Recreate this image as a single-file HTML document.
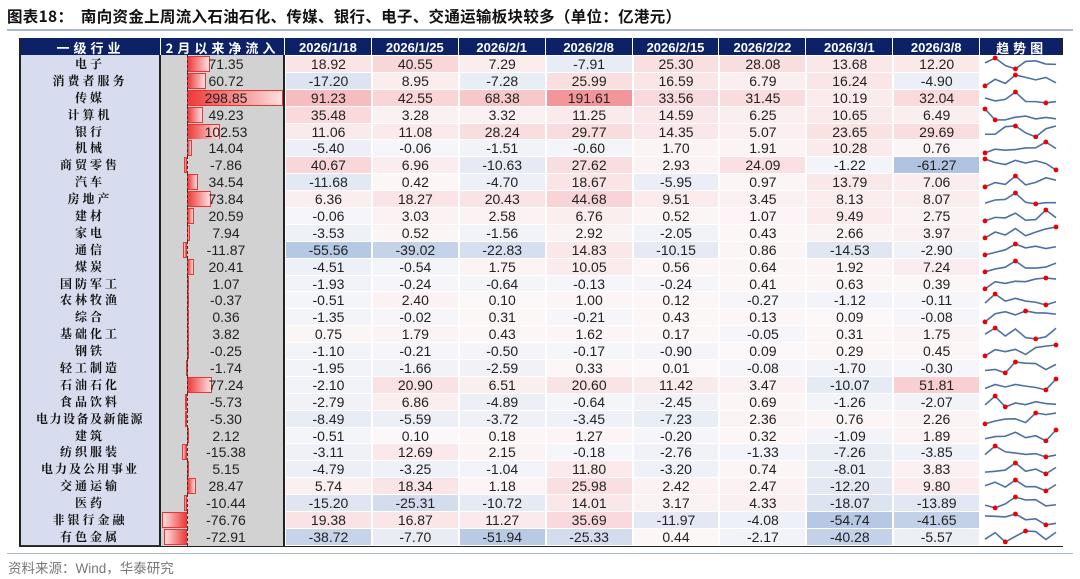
<!DOCTYPE html>
<html><head><meta charset="utf-8">
<style>
body{margin:0;width:1080px;height:579px;background:#fff;font-family:"Liberation Sans","Noto Sans CJK SC",sans-serif;position:relative;overflow:hidden}
.title{position:absolute;left:7px;top:5px;font-size:15.5px;font-weight:bold;color:#111;letter-spacing:0.3px;font-family:"Noto Sans CJK SC","Liberation Sans",sans-serif;white-space:nowrap}
.tl{position:absolute;left:7px;right:7px;top:29px;height:2px;background:#a9b9cf}
.fl{position:absolute;left:7px;right:7px;top:553px;height:1px;background:#a9b9cf}
.foot{position:absolute;left:8px;top:557px;font-size:13.5px;color:#777;font-family:"Liberation Sans","Noto Sans CJK SC",sans-serif}
#tbl{position:absolute;left:19px;top:38px;width:1044px;border:2px solid #222;box-sizing:border-box;border-top:none}
.row{display:grid;grid-template-columns:140px 124px repeat(8,86.9px) 83px;height:16.9px}
.hd{height:17px;background:#0d2266;color:#fff;font-weight:bold;font-size:13px}
.hd div{display:flex;align-items:center;justify-content:center;border-right:1px solid #fff;box-sizing:border-box}
.hd div:last-child{border-right:none}
.lab{background:#d7ddee;border-right:2px solid #222;border-bottom:1px solid #333;box-sizing:border-box;font-size:12px;font-weight:bold;letter-spacing:3px;display:flex;align-items:center;justify-content:center;font-family:"Noto Serif CJK SC","Noto Sans CJK SC",serif;color:#111}
.bar{background:#d2d2d2;border-right:2px solid #222;box-sizing:border-box;position:relative;font-size:14px;color:#222;display:flex;align-items:center;justify-content:center}
.bar i{position:absolute;top:1px;bottom:1px;border:1px solid #e33;box-sizing:border-box}
.bar b{font-weight:normal;position:relative;margin-left:8px}
.zl{position:absolute;left:26px;top:0;bottom:0;border-left:1px dashed #333}
.v{font-size:14px;color:#222;display:flex;align-items:center;justify-content:center;border:1px solid #fff;box-sizing:border-box}
.sp{background:#fff}
.hd .hl{letter-spacing:4px;font-family:"Noto Sans CJK SC",sans-serif}
</style></head><body>
<div class="title">图表18：&nbsp; 南向资金上周流入石油石化、传媒、银行、电子、交通运输板块较多（单位：亿港元）</div>
<div class="tl"></div>
<div id="tbl">
<div class="row hd"><div class="hl">一级行业</div><div class="hl">2月以来净流入</div><div>2026/1/18</div><div>2026/1/25</div><div>2026/2/1</div><div>2026/2/8</div><div>2026/2/15</div><div>2026/2/22</div><div>2026/3/1</div><div>2026/3/8</div><div class="hl">趋势图</div></div>
<div id="body">
<div class="row"><div class="lab">电子</div><div class="bar">71.35</div><div class="v">18.92</div><div class="v">40.55</div><div class="v">7.29</div><div class="v">-7.91</div><div class="v">25.30</div><div class="v">28.08</div><div class="v">13.68</div><div class="v">12.20</div><div class="sp"></div></div>
<div class="row"><div class="lab">消费者服务</div><div class="bar">60.72</div><div class="v">-17.20</div><div class="v">8.95</div><div class="v">-7.28</div><div class="v">25.99</div><div class="v">16.59</div><div class="v">6.79</div><div class="v">16.24</div><div class="v">-4.90</div><div class="sp"></div></div>
<div class="row"><div class="lab">传媒</div><div class="bar">298.85</div><div class="v">91.23</div><div class="v">42.55</div><div class="v">68.38</div><div class="v">191.61</div><div class="v">33.56</div><div class="v">31.45</div><div class="v">10.19</div><div class="v">32.04</div><div class="sp"></div></div>
<div class="row"><div class="lab">计算机</div><div class="bar">49.23</div><div class="v">35.48</div><div class="v">3.28</div><div class="v">3.32</div><div class="v">11.25</div><div class="v">14.59</div><div class="v">6.25</div><div class="v">10.65</div><div class="v">6.49</div><div class="sp"></div></div>
<div class="row"><div class="lab">银行</div><div class="bar">102.53</div><div class="v">11.06</div><div class="v">11.08</div><div class="v">28.24</div><div class="v">29.77</div><div class="v">14.35</div><div class="v">5.07</div><div class="v">23.65</div><div class="v">29.69</div><div class="sp"></div></div>
<div class="row"><div class="lab">机械</div><div class="bar">14.04</div><div class="v">-5.40</div><div class="v">-0.06</div><div class="v">-1.51</div><div class="v">-0.60</div><div class="v">1.70</div><div class="v">1.91</div><div class="v">10.28</div><div class="v">0.76</div><div class="sp"></div></div>
<div class="row"><div class="lab">商贸零售</div><div class="bar">-7.86</div><div class="v">40.67</div><div class="v">6.96</div><div class="v">-10.63</div><div class="v">27.62</div><div class="v">2.93</div><div class="v">24.09</div><div class="v">-1.22</div><div class="v">-61.27</div><div class="sp"></div></div>
<div class="row"><div class="lab">汽车</div><div class="bar">34.54</div><div class="v">-11.68</div><div class="v">0.42</div><div class="v">-4.70</div><div class="v">18.67</div><div class="v">-5.95</div><div class="v">0.97</div><div class="v">13.79</div><div class="v">7.06</div><div class="sp"></div></div>
<div class="row"><div class="lab">房地产</div><div class="bar">73.84</div><div class="v">6.36</div><div class="v">18.27</div><div class="v">20.43</div><div class="v">44.68</div><div class="v">9.51</div><div class="v">3.45</div><div class="v">8.13</div><div class="v">8.07</div><div class="sp"></div></div>
<div class="row"><div class="lab">建材</div><div class="bar">20.59</div><div class="v">-0.06</div><div class="v">3.03</div><div class="v">2.58</div><div class="v">6.76</div><div class="v">0.52</div><div class="v">1.07</div><div class="v">9.49</div><div class="v">2.75</div><div class="sp"></div></div>
<div class="row"><div class="lab">家电</div><div class="bar">7.94</div><div class="v">-3.53</div><div class="v">0.52</div><div class="v">-1.56</div><div class="v">2.92</div><div class="v">-2.05</div><div class="v">0.43</div><div class="v">2.66</div><div class="v">3.97</div><div class="sp"></div></div>
<div class="row"><div class="lab">通信</div><div class="bar">-11.87</div><div class="v">-55.56</div><div class="v">-39.02</div><div class="v">-22.83</div><div class="v">14.83</div><div class="v">-10.15</div><div class="v">0.86</div><div class="v">-14.53</div><div class="v">-2.90</div><div class="sp"></div></div>
<div class="row"><div class="lab">煤炭</div><div class="bar">20.41</div><div class="v">-4.51</div><div class="v">-0.54</div><div class="v">1.75</div><div class="v">10.05</div><div class="v">0.56</div><div class="v">0.64</div><div class="v">1.92</div><div class="v">7.24</div><div class="sp"></div></div>
<div class="row"><div class="lab">国防军工</div><div class="bar">1.07</div><div class="v">-1.93</div><div class="v">-0.24</div><div class="v">-0.64</div><div class="v">-0.13</div><div class="v">-0.24</div><div class="v">0.41</div><div class="v">0.63</div><div class="v">0.39</div><div class="sp"></div></div>
<div class="row"><div class="lab">农林牧渔</div><div class="bar">-0.37</div><div class="v">-0.51</div><div class="v">2.40</div><div class="v">0.10</div><div class="v">1.00</div><div class="v">0.12</div><div class="v">-0.27</div><div class="v">-1.12</div><div class="v">-0.11</div><div class="sp"></div></div>
<div class="row"><div class="lab">综合</div><div class="bar">0.36</div><div class="v">-1.35</div><div class="v">-0.02</div><div class="v">0.31</div><div class="v">-0.21</div><div class="v">0.43</div><div class="v">0.13</div><div class="v">0.09</div><div class="v">-0.08</div><div class="sp"></div></div>
<div class="row"><div class="lab">基础化工</div><div class="bar">3.82</div><div class="v">0.75</div><div class="v">1.79</div><div class="v">0.43</div><div class="v">1.62</div><div class="v">0.17</div><div class="v">-0.05</div><div class="v">0.31</div><div class="v">1.75</div><div class="sp"></div></div>
<div class="row"><div class="lab">钢铁</div><div class="bar">-0.25</div><div class="v">-1.10</div><div class="v">-0.21</div><div class="v">-0.50</div><div class="v">-0.17</div><div class="v">-0.90</div><div class="v">0.09</div><div class="v">0.29</div><div class="v">0.45</div><div class="sp"></div></div>
<div class="row"><div class="lab">轻工制造</div><div class="bar">-1.74</div><div class="v">-1.95</div><div class="v">-1.66</div><div class="v">-2.59</div><div class="v">0.33</div><div class="v">0.01</div><div class="v">-0.08</div><div class="v">-1.70</div><div class="v">-0.30</div><div class="sp"></div></div>
<div class="row"><div class="lab">石油石化</div><div class="bar">77.24</div><div class="v">-2.10</div><div class="v">20.90</div><div class="v">6.51</div><div class="v">20.60</div><div class="v">11.42</div><div class="v">3.47</div><div class="v">-10.07</div><div class="v">51.81</div><div class="sp"></div></div>
<div class="row"><div class="lab">食品饮料</div><div class="bar">-5.73</div><div class="v">-2.79</div><div class="v">6.86</div><div class="v">-4.89</div><div class="v">-0.64</div><div class="v">-2.45</div><div class="v">0.69</div><div class="v">-1.26</div><div class="v">-2.07</div><div class="sp"></div></div>
<div class="row"><div class="lab" style="letter-spacing:1.5px">电力设备及新能源</div><div class="bar">-5.30</div><div class="v">-8.49</div><div class="v">-5.59</div><div class="v">-3.72</div><div class="v">-3.45</div><div class="v">-7.23</div><div class="v">2.36</div><div class="v">0.76</div><div class="v">2.26</div><div class="sp"></div></div>
<div class="row"><div class="lab">建筑</div><div class="bar">2.12</div><div class="v">-0.51</div><div class="v">0.10</div><div class="v">0.18</div><div class="v">1.27</div><div class="v">-0.20</div><div class="v">0.32</div><div class="v">-1.09</div><div class="v">1.89</div><div class="sp"></div></div>
<div class="row"><div class="lab">纺织服装</div><div class="bar">-15.38</div><div class="v">-3.11</div><div class="v">12.69</div><div class="v">2.15</div><div class="v">-0.18</div><div class="v">-2.76</div><div class="v">-1.33</div><div class="v">-7.26</div><div class="v">-3.85</div><div class="sp"></div></div>
<div class="row"><div class="lab" style="letter-spacing:2px">电力及公用事业</div><div class="bar">5.15</div><div class="v">-4.79</div><div class="v">-3.25</div><div class="v">-1.04</div><div class="v">11.80</div><div class="v">-3.20</div><div class="v">0.74</div><div class="v">-8.01</div><div class="v">3.83</div><div class="sp"></div></div>
<div class="row"><div class="lab">交通运输</div><div class="bar">28.47</div><div class="v">5.74</div><div class="v">18.34</div><div class="v">1.18</div><div class="v">25.98</div><div class="v">2.42</div><div class="v">2.47</div><div class="v">-12.20</div><div class="v">9.80</div><div class="sp"></div></div>
<div class="row"><div class="lab">医药</div><div class="bar">-10.44</div><div class="v">-15.20</div><div class="v">-25.31</div><div class="v">-10.72</div><div class="v">14.01</div><div class="v">3.17</div><div class="v">4.33</div><div class="v">-18.07</div><div class="v">-13.89</div><div class="sp"></div></div>
<div class="row"><div class="lab">非银行金融</div><div class="bar">-76.76</div><div class="v">19.38</div><div class="v">16.87</div><div class="v">11.27</div><div class="v">35.69</div><div class="v">-11.97</div><div class="v">-4.08</div><div class="v">-54.74</div><div class="v">-41.65</div><div class="sp"></div></div>
<div class="row"><div class="lab">有色金属</div><div class="bar">-72.91</div><div class="v">-38.72</div><div class="v">-7.70</div><div class="v">-51.94</div><div class="v">-25.33</div><div class="v">0.44</div><div class="v">-2.17</div><div class="v">-40.28</div><div class="v">-5.57</div><div class="sp"></div></div>
</div></div>
<div class="fl"></div>
<div class="foot">资料来源：Wind，华泰研究</div>
<script>
function mix(a,b,t){return 'rgb('+a.map((x,i)=>Math.round(x+(b[i]-x)*t)).join(',')+')';}
document.querySelectorAll('#body .row').forEach(r=>{
  const vs=[...r.querySelectorAll('.v')];const vals=vs.map(e=>parseFloat(e.textContent));
  vs.forEach((e,i)=>{const v=vals[i];let c;
    if(v>=0)c=mix([252,247,248],[242,150,154],Math.pow(Math.min(1,v/191.61),0.7));
    else c=mix([246,246,250],[176,196,226],Math.pow(Math.min(1,-v/61.27),0.8));
    e.style.background=c;});
  const b=r.querySelector('.bar');const bv=parseFloat(b.textContent);
  const w=Math.abs(bv)*0.321;const z=26;
  const t=b.textContent;b.textContent='';
  const i=document.createElement('i');
  if(bv>=0){i.style.left=z+'px';i.style.width=w+'px';i.style.background='linear-gradient(90deg,#ee3a3a,#fde0e0)';}
  else{i.style.left=(z-w)+'px';i.style.width=w+'px';i.style.background='linear-gradient(90deg,#fde0e0,#ee3a3a)';}
  b.appendChild(i);const zl=document.createElement('span');zl.className='zl';b.appendChild(zl);
  const bb=document.createElement('b');bb.textContent=t;b.appendChild(bb);
  const mx=Math.max(...vals),mn=Math.min(...vals);const W=83,H=16.9;
  const xs=vals.map((v,k)=>5+k*(W-12)/7);const ys=vals.map(v=>mx==mn?H/2:H-3-(v-mn)/(mx-mn)*(H-6));
  let s='<svg width="'+W+'" height="'+H+'" style="display:block"><polyline fill="none" stroke="#4c70a6" stroke-width="1.6" points="'+xs.map((x,k)=>x+','+ys[k]).join(' ')+'"/>';
  const imx=vals.indexOf(mx),imn=vals.indexOf(mn);
  [imx,imn].forEach(k=>{s+='<circle cx="'+xs[k]+'" cy="'+ys[k]+'" r="2.4" fill="#e00"/>';});
  s+='</svg>';r.querySelector('.sp').innerHTML=s;
});
</script>
</body></html>
